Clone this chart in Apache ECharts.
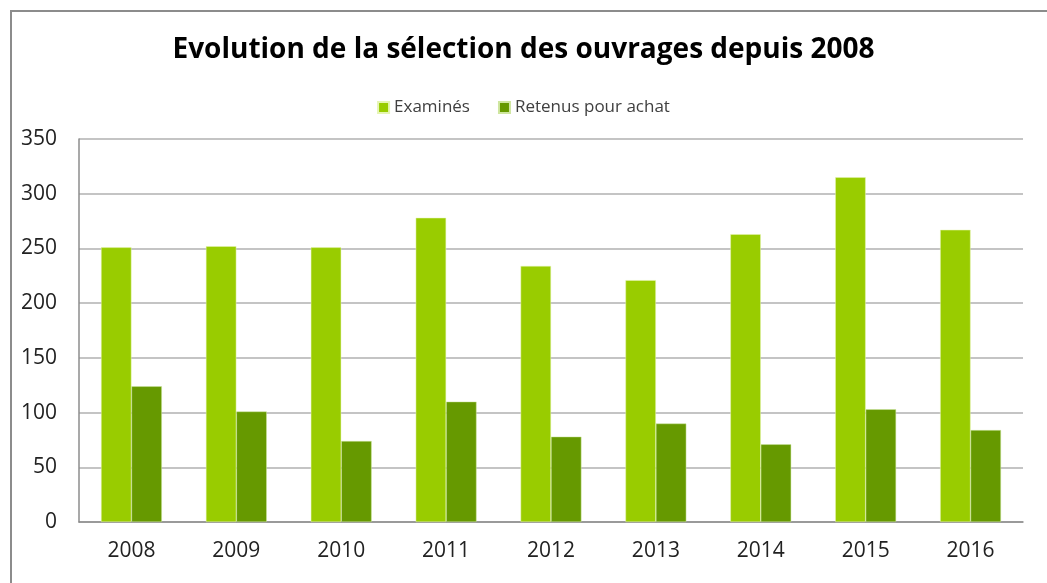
<!DOCTYPE html>
<html>
<head>
<meta charset="utf-8">
<script src="https://cdn.jsdelivr.net/npm/echarts@6/dist/echarts.min.js"></script>
<style>
    html, body { margin: 0; padding: 0; background: #fff; }
    #chart { width: 1047px; height: 583px; }
</style>
</head>
<body>
<div id="chart"></div>
<script>
const annees = ['2008', '2009', '2010', '2011', '2012', '2013', '2014', '2015', '2016'];
const examines = [251, 252, 251, 278, 234, 221, 263, 315, 267];
const retenus = [124, 101, 74, 110, 78, 90, 71, 103, 84];

let chartSelection = echarts.init(document.getElementById('chart'));

const police = '"Open Sans", "DejaVu Sans", sans-serif';

const option = {
    animation: false,
    textStyle: { fontFamily: police },
    graphic: [
        {
            type: 'rect',
            shape: { x: 11, y: 11, width: 1100, height: 700 },
            style: { fill: 'none', stroke: '#8c8c8c', lineWidth: 2 },
            silent: true
        }
    ],
    title: {
        text: 'Evolution de la sélection des ouvrages depuis 2008',
        left: 'center',
        top: 31,
        textStyle: {
            fontFamily: police,
            fontSize: 28,
            fontWeight: 'bold',
            color: '#000'
        }
    },
    legend: {
        top: 94,
        left: 'center',
        itemWidth: 11,
        itemHeight: 11,
        itemGap: 28,
        icon: 'rect',
        textStyle: { fontFamily: police, fontSize: 17, color: '#404040' },
        data: ['Examinés', 'Retenus pour achat']
    },
    grid: {
        left: 79,
        right: 24,
        top: 139,
        bottom: 61,
        containLabel: false
    },
    xAxis: {
        type: 'category',
        data: annees,
        axisLine: { lineStyle: { color: '#8c8c8c', width: 1.5 } },
        axisTick: { show: false },
        axisLabel: { fontFamily: police, fontSize: 21, color: '#222', margin: 19 }
    },
    yAxis: {
        type: 'value',
        min: 0,
        max: 350,
        interval: 50,
        axisLine: { show: true, lineStyle: { color: '#8c8c8c', width: 1.5 } },
        axisTick: { show: false },
        axisLabel: { fontFamily: police, fontSize: 21, color: '#222', margin: 22 },
        splitLine: { lineStyle: { color: '#b0b0b0', width: 1.5 } }
    },
    series: [
        {
            name: 'Examinés',
            type: 'bar',
            data: examines,
            barGap: '0%',
            barCategoryGap: '42%',
            itemStyle: { color: '#99cc00', borderColor: '#e6f5b3', borderWidth: 0.5 }
        },
        {
            name: 'Retenus pour achat',
            type: 'bar',
            data: retenus,
            itemStyle: { color: '#669900', borderColor: '#cfe6a0', borderWidth: 0.5 }
        }
    ]
};

option && chartSelection.setOption(option);
window.addEventListener('resize', chartSelection.resize);
</script>
</body>
</html>
